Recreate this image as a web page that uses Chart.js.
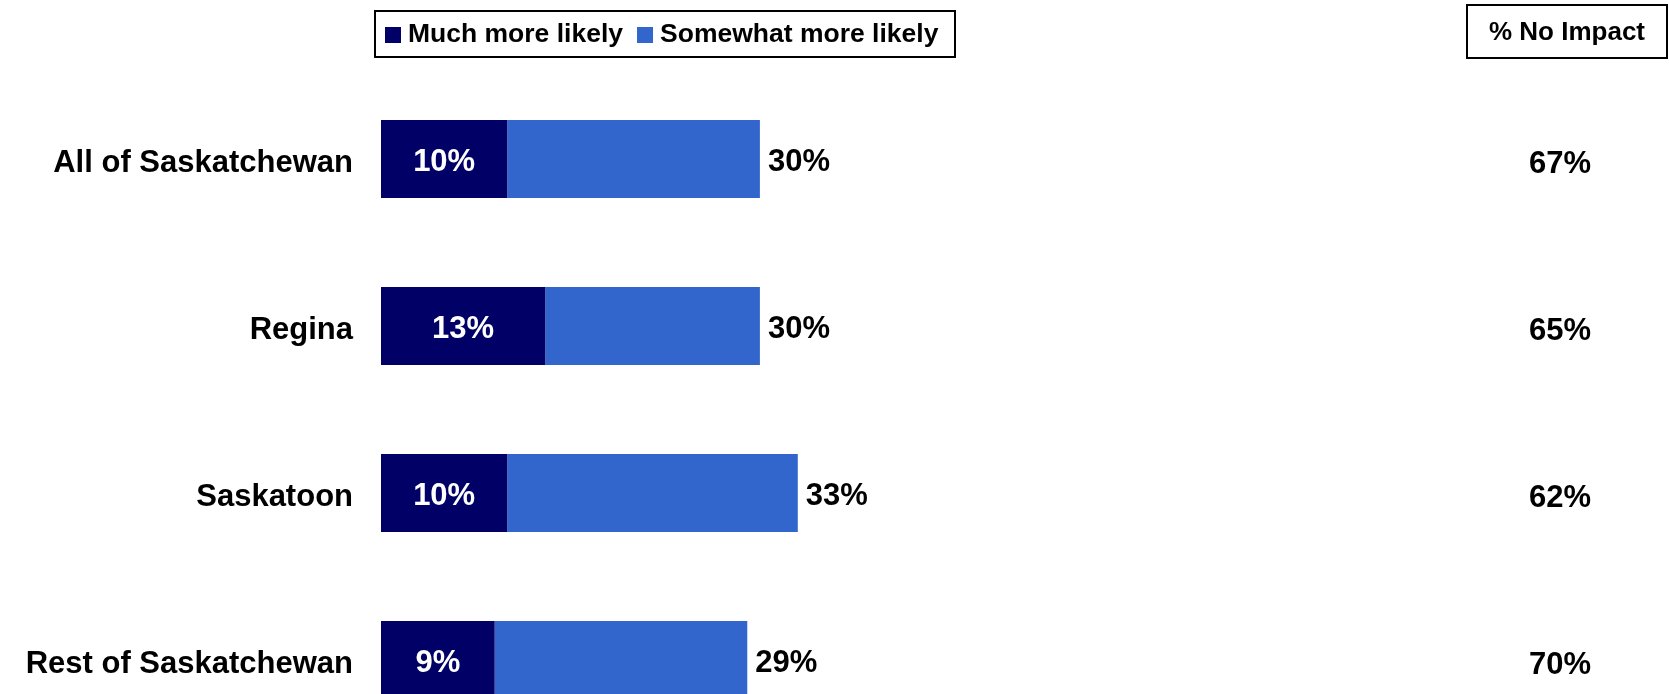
<!DOCTYPE html>
<html>
<head>
<meta charset="utf-8">
<script src="https://cdn.jsdelivr.net/npm/chart.js@4/dist/chart.umd.min.js"></script>
<style>
  html, body { margin: 0; padding: 0; background: #fff; overflow: hidden; }
  #wrap { width: 1669px; height: 694px; overflow: hidden; }
</style>
</head>
<body>
<div id="wrap"><canvas id="chart" width="1669" height="800"></canvas></div>
<script>
var regions = ["All of Saskatchewan", "Regina", "Saskatoon", "Rest of Saskatchewan"];
var muchMore = [10, 13, 10, 9];
var somewhatMore = [20, 17, 23, 20];
var totalMore = [30, 30, 33, 29];
var noImpact = [67, 65, 62, 70];

var FONT = '"Liberation Sans", Arial, Helvetica, sans-serif';

// legend box, bar labels and the "% No Impact" column
var extras = {
  id: "extras",
  afterDatasetsDraw: function (chart) {
    var ctx = chart.ctx;
    ctx.save();
    ctx.textBaseline = "middle";
    ctx.font = "bold 31px " + FONT;

    var inner = chart.getDatasetMeta(0).data;
    var outer = chart.getDatasetMeta(1).data;
    inner.forEach(function (bar, i) {
      ctx.fillStyle = "#ffffff";
      ctx.textAlign = "center";
      ctx.fillText(muchMore[i] + "%", (bar.base + bar.x) / 2, bar.y + 3);
      ctx.fillStyle = "#000000";
      ctx.textAlign = "left";
      ctx.fillText(totalMore[i] + "%", outer[i].x + 8, bar.y + 3);
      ctx.textAlign = "center";
      ctx.fillText(noImpact[i] + "%", 1560, bar.y + 5);
    });

    // "% No Impact" header
    ctx.lineWidth = 2;
    ctx.strokeStyle = "#000000";
    ctx.strokeRect(1467, 5, 200, 53);
    ctx.font = "bold 26px " + FONT;
    ctx.fillStyle = "#000000";
    ctx.textAlign = "center";
    ctx.fillText("% No Impact", 1567, 33);

    // legend
    ctx.strokeRect(375, 11, 580, 46);
    ctx.font = "bold 26.5px " + FONT;
    ctx.textAlign = "left";
    var x = 385;
    chart.data.datasets.forEach(function (ds) {
      ctx.fillStyle = ds.backgroundColor;
      ctx.fillRect(x, 27, 16, 16);
      ctx.fillStyle = "#000000";
      ctx.fillText(ds.label, x + 23, 35);
      x += 23 + ctx.measureText(ds.label).width + 14;
    });
    ctx.restore();
  }
};

new Chart(document.getElementById("chart"), {
  type: "bar",
  data: {
    labels: regions,
    datasets: [
      { label: "Much more likely", data: muchMore, backgroundColor: "#000066" },
      { label: "Somewhat more likely", data: somewhatMore, backgroundColor: "#3366CC" }
    ]
  },
  options: {
    indexAxis: "y",
    responsive: false,
    animation: false,
    layout: { padding: { top: 75.5, right: 25, bottom: 56.5, left: 0 } },
    datasets: { bar: { categoryPercentage: 1, barPercentage: 0.467 } },
    scales: {
      x: { stacked: true, min: 0, max: 100, display: false },
      y: {
        stacked: true,
        grid: { display: false, drawTicks: false },
        border: { display: false },
        ticks: {
          padding: 28,
          labelOffset: 4,
          color: "#000000",
          font: { family: FONT, size: 31, weight: "bold" }
        },
        afterFit: function (scale) { scale.width = 381; }
      }
    },
    plugins: { legend: { display: false }, tooltip: { enabled: false } }
  },
  plugins: [extras]
});
</script>
</body>
</html>
